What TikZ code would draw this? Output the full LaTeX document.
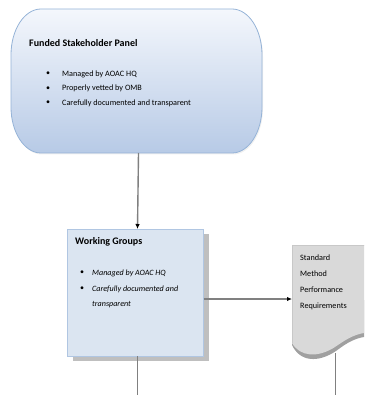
\documentclass[tikz,border=0pt]{standalone}
\usepackage{fontspec}
\setmainfont{Carlito}
\usetikzlibrary{arrows.meta,calc}
\definecolor{fsptop}{RGB}{244,247,252}
\definecolor{fspbot}{RGB}{183,202,230}
\definecolor{fspline}{RGB}{149,179,215}
\definecolor{wgfill}{RGB}{219,229,241}
\definecolor{wgline}{RGB}{176,198,226}
\definecolor{shadowgray}{RGB}{191,191,191}
\definecolor{docfill}{RGB}{217,217,217}
\definecolor{docline}{RGB}{200,200,200}
\definecolor{docshadow}{RGB}{160,160,160}
\definecolor{connline}{RGB}{128,128,128}
\tikzset{
  ghost/.style={draw=none, inner sep=0pt, outer sep=0pt},
  title/.style={anchor=west, inner sep=0pt, font=\bfseries\fontsize{10}{12}\selectfont},
  bul/.style={inner sep=0pt, font=\fontsize{8}{10}\selectfont},
  fsptext/.style={anchor=west, inner sep=0pt, font=\fontsize{8.2}{10}\selectfont},
  wgtext/.style={anchor=west, inner sep=0pt, font=\itshape\fontsize{8.1}{10}\selectfont},
  doctext/.style={anchor=west, inner sep=0pt, font=\fontsize{8.2}{10}\selectfont},
  conn/.style={draw=connline, line width=1.4pt, -{Latex[length=5pt,width=4.5pt,fill=black,color=black]}},
  plainconn/.style={draw=connline, line width=1.4pt}
}
\begin{document}
\begin{tikzpicture}[x=1pt,y=-1pt]
\useasboundingbox (0,0) rectangle (364,395);
\clip (0,0) rectangle (364,395);

% ---- Funded Stakeholder Panel (terminator) ----
\fill[black, opacity=0.06] (42,10.5) -- (233,10.5) .. controls (249.6,10.5) and (263,31.1) .. (263,56.5) -- (263,108.5)
  .. controls (263,133.9) and (249.6,154.5) .. (233,154.5) -- (42,154.5) .. controls (25.4,154.5) and (12,133.9) .. (12,108.5)
  -- (12,56.5) .. controls (12,31.1) and (25.4,10.5) .. (42,10.5) -- cycle;
\shade[top color=fsptop, bottom color=fspbot, draw=fspline, line width=0.8pt]
  (41,9) -- (232,9) .. controls (248.6,9) and (262,29.6) .. (262,55) -- (262,107)
  .. controls (262,132.4) and (248.6,153) .. (232,153) -- (41,153) .. controls (24.4,153) and (11,132.4) .. (11,107)
  -- (11,55) .. controls (11,29.6) and (24.4,9) .. (41,9) -- cycle;
\node[ghost, minimum width=251pt, minimum height=144pt] (fsp) at (137.5,81) {};
\node[title] (fspT) at (29,43) {Funded Stakeholder Panel};
\node[bul] (fb1) at (48,74) {\textbullet};
\node[bul] (fb2) at (48,88.5) {\textbullet};
\node[bul] (fb3) at (48,103) {\textbullet};
\node[fsptext] (ft1) at (62,74) {Managed by AOAC HQ};
\node[fsptext] (ft2) at (62,88.5) {Properly vetted by OMB};
\node[fsptext] (ft3) at (62,103) {Carefully documented and transparent};

% ---- Working Groups ----
\fill[shadowgray] (72.5,234) rectangle (208.5,361);
\node[ghost, draw=wgline, fill=wgfill, line width=0.6pt, minimum width=136pt, minimum height=127pt] (wg) at (135.5,292.5) {};
\node[title] (wgT) at (75,242) {Working Groups};
\node[bul] (wb1) at (82,273) {\textbullet};
\node[bul] (wb2) at (82,289) {\textbullet};
\node[wgtext] (wt1) at (92,273) {Managed by AOAC HQ};
\node[wgtext] (wt2) at (92,289) {Carefully documented and};
\node[wgtext] (wt3) at (92,305) {transparent};

% ---- Standard Method Performance Requirements (document) ----
\fill[docshadow] (292,345) .. controls (300,362) and (318,363) .. (336,351)
  .. controls (348,342) and (356,337) .. (372,336) -- (372,300) -- (292,300) -- cycle;
\fill[docfill] (292,245) -- (372,245) -- (372,332)
  .. controls (356,333) and (348,338) .. (335,347)
  .. controls (318,358) and (300,357) .. (292,343) -- cycle;
\draw[docline, line width=0.6pt] (292,343) -- (292,245) -- (372,245);
\node[ghost, minimum width=80pt, minimum height=100pt] (smpr) at (332,295) {};
\node[doctext] (d1) at (300,258) {Standard};
\node[doctext] (d2) at (300,274) {Method};
\node[doctext] (d3) at (300,290) {Performance};
\node[doctext] (d4) at (300,306) {Requirements};

% ---- connectors ----
\coordinate (wgend) at (137.5,395);
\coordinate (docend) at (335.5,395);
\coordinate (docstart) at ($(smpr.south -| docend)+(0,8)$);
\draw[conn] ([xshift=1pt]fsp.south) -- ([xshift=2pt]wg.north);
\draw[conn] ([yshift=-6.5pt]wg.east) -- ([yshift=-6.5pt]wg.east -| smpr.west);
\draw[plainconn] ([xshift=2pt]wg.south) -- (wgend);
\draw[plainconn] (docstart) -- (docend);
\end{tikzpicture}
\end{document}
